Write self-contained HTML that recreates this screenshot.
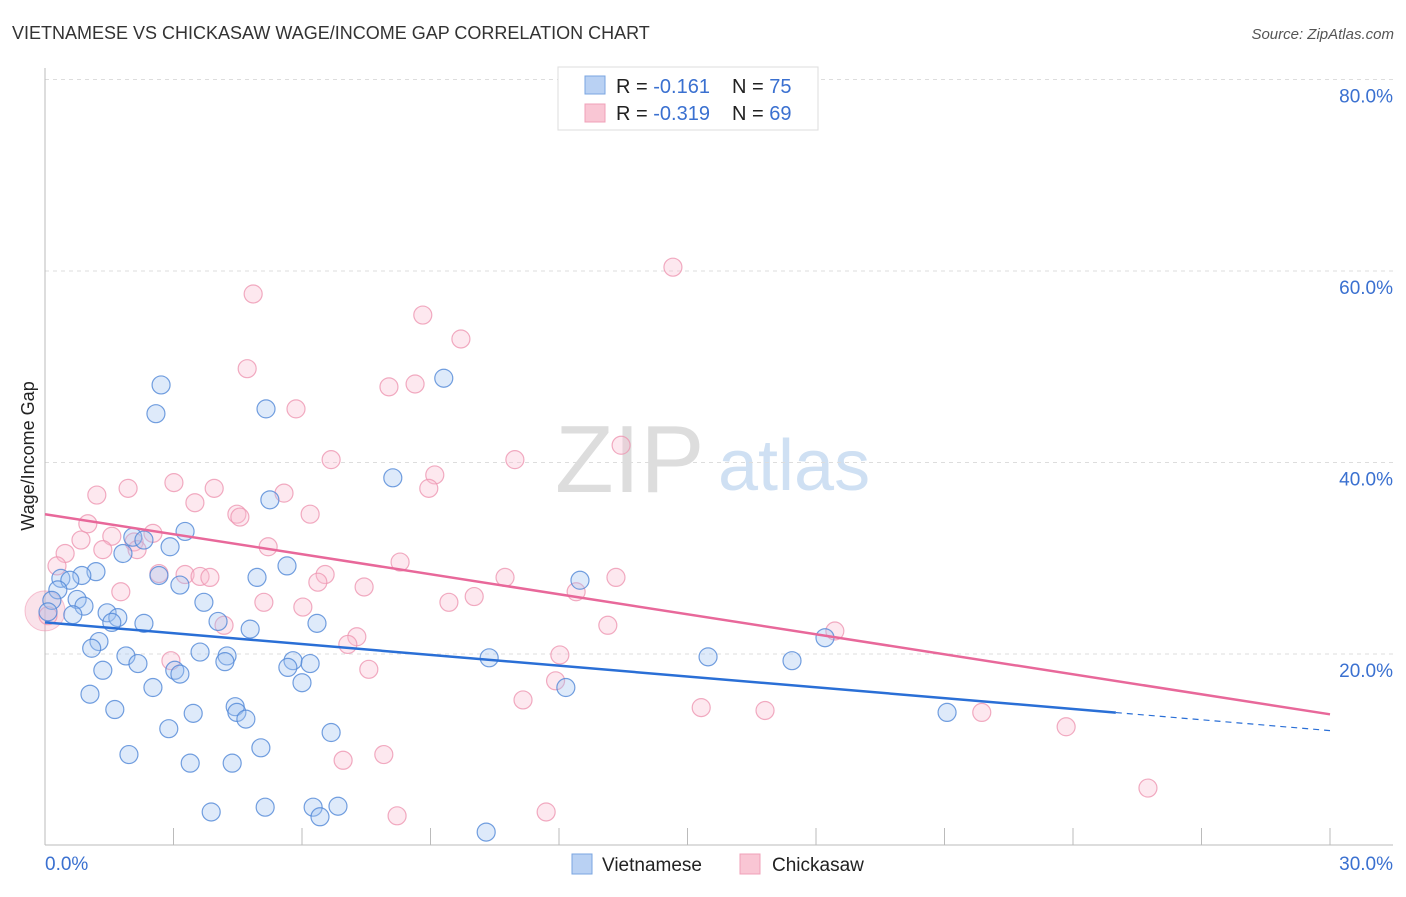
<!DOCTYPE html>
<html><head><meta charset="utf-8"><style>
body{margin:0;background:#fff;font-family:"Liberation Sans",sans-serif}
svg text{font-family:"Liberation Sans",sans-serif}
</style></head><body>
<svg width="1406" height="892" id="c">
<text x="12" y="39" font-size="18" fill="#333">VIETNAMESE VS CHICKASAW WAGE/INCOME GAP CORRELATION CHART</text>
<text x="1394" y="39" font-size="15" fill="#555" font-style="italic" text-anchor="end">Source: ZipAtlas.com</text>
<text x="555" y="492" font-size="96" fill="#ddd" font-family="Liberation Serif">ZIP</text>
<text x="718" y="490" font-size="72" fill="#cfe0f3">atlas</text>
<text transform="translate(34,456) rotate(-90)" font-size="18" fill="#222" text-anchor="middle">Wage/Income Gap</text>
<g id="grid"></g><g id="pts"></g><g id="lines"></g>
<g>
<rect x="558" y="67" width="260" height="63" fill="#fff" stroke="#ddd"/>
<rect x="585" y="76" width="20" height="18" fill="#b9d1f3" stroke="#7aa5e0"/>
<rect x="585" y="104" width="20" height="18" fill="#f9c6d4" stroke="#f0a0b8"/>
<text x="616" y="93" font-size="20" fill="#222">R = <tspan fill="#3a70d0"> -0.161</tspan><tspan x="732">N = </tspan><tspan fill="#3a70d0">75</tspan></text>
<text x="616" y="120" font-size="20" fill="#222">R = <tspan fill="#3a70d0">-0.319</tspan><tspan x="732">N = </tspan><tspan fill="#3a70d0">69</tspan></text>
</g>
<g>
<rect x="572" y="854" width="20" height="20" fill="#b9d1f3" stroke="#7aa5e0"/>
<text x="602" y="871" font-size="19" fill="#222">Vietnamese</text>
<rect x="740" y="854" width="20" height="20" fill="#f9c6d4" stroke="#f0a0b8"/>
<text x="772" y="871" font-size="19" fill="#222">Chickasaw</text>
</g>
</svg>
<script>
const xTicks=[0,3,6,9,12,15,18,21,24,27,30];
const yTicks=[20,40,60,80];
const blueX=[9.31,2.71,2.59,5.16,8.12,5.25,3.27,2.05,2.92,1.82,2.31,1.19,0.86,0.37,0.58,2.66,3.15,4.95,5.65,12.49,0.30,0.16,0.75,0.91,0.65,1.45,1.70,1.56,2.31,3.71,4.04,4.79,6.35,18.21,1.26,1.09,1.89,2.17,1.35,3.62,4.25,4.20,5.79,5.67,6.19,10.37,15.48,17.44,3.03,3.15,6.00,2.52,12.16,1.05,1.63,4.44,4.48,4.69,3.46,21.06,2.89,6.68,5.04,1.96,3.39,4.37,3.88,5.14,6.26,6.84,6.42,10.30,0.07];
const blueY=[48.8,48.1,45.1,45.6,38.4,36.1,32.8,32.2,31.2,30.5,31.9,28.6,28.2,27.9,27.7,28.2,27.2,28.0,29.2,27.7,26.7,25.6,25.7,25.0,24.1,24.3,23.8,23.3,23.2,25.4,23.4,22.6,23.2,21.7,21.3,20.6,19.8,19.0,18.3,20.2,19.8,19.2,19.3,18.6,19.0,19.6,19.7,19.3,18.3,17.9,17.0,16.5,16.5,15.8,14.2,14.5,13.9,13.2,13.8,13.9,12.2,11.8,10.2,9.5,8.6,8.6,3.5,4.0,4.0,4.1,3.0,1.4,24.4];
const pinkX=[14.66,4.86,8.82,9.71,4.72,8.03,8.64,5.86,13.45,6.68,10.97,9.10,8.96,3.01,1.94,1.21,3.95,3.50,5.58,4.48,4.55,6.19,1.00,2.52,1.56,0.84,2.08,5.21,0.47,1.35,2.15,0.28,8.29,2.66,3.27,3.62,3.85,6.54,10.74,13.33,6.37,7.45,1.77,12.40,10.02,9.43,5.11,6.02,0.07,4.18,13.14,18.44,7.28,7.07,12.02,2.94,7.56,11.92,11.16,15.32,16.81,21.87,23.84,6.96,7.91,8.22,11.70,25.75];
const pinkY=[60.4,57.6,55.4,52.9,49.8,47.9,48.2,45.6,41.8,40.3,40.3,38.7,37.3,37.9,37.3,36.6,37.3,35.8,36.8,34.6,34.3,34.6,33.6,32.6,32.3,31.9,31.7,31.2,30.5,30.9,30.9,29.2,29.6,28.4,28.3,28.1,28.0,28.3,28.0,28.0,27.5,27.0,26.5,26.5,26.0,25.4,25.4,24.9,24.0,23.0,23.0,22.4,21.8,21.0,19.9,19.3,18.4,17.2,15.2,14.4,14.1,13.9,12.4,8.9,9.5,3.1,3.5,6.0];
const blueTrend=[23.3,12.0], blueSolidEnd=25;
const pinkTrend=[34.6,13.7];
const NS='http://www.w3.org/2000/svg';
const X=v=>45+v/30*1285, Y=v=>845.5-v/20*191.5;
function mk(p,t,a){const e=document.createElementNS(NS,t);for(const k in a)e.setAttribute(k,a[k]);p.appendChild(e);return e;}
const g=document.getElementById('grid');
yTicks.forEach(t=>{
 const l=mk(g,'line',{x1:45,x2:1393,y1:Y(t),y2:Y(t),stroke:'#ddd','stroke-dasharray':'4,4'});
 
 
 const tx=mk(g,'text',{x:1393,y:Y(t)+23,'font-size':19,fill:'#3a70d0','text-anchor':'end'});tx.textContent=t+'.0%';
 
 
});
const ax=mk(g,'line',{x1:45,x2:45,y1:68,y2:845,stroke:'#bbb'});


const bx=mk(g,'line',{x1:45,x2:1393,y1:845,y2:845,stroke:'#bbb'});


xTicks.forEach(t=>{const l=mk(g,'line',{x1:X(t),x2:X(t),y1:828,y2:845,stroke:'#bbb'});
 
 });
[[0,'start',45],[30,'end',1393]].forEach(([v,a,x])=>{const tx=mk(g,'text',{x:x,y:870,'font-size':19,fill:'#3a70d0','text-anchor':a});tx.textContent=v+'.0%';
 
 });
const p=document.getElementById('pts');
const big1=mk(p,'circle',{cx:X(0),cy:Y(24.5),r:20,fill:'rgba(240,160,184,0.3)',stroke:'rgba(240,140,170,0.5)'});


function pts(xs,ys,fill,stroke,name){xs.forEach((x,i)=>{const c=mk(p,'circle',{cx:X(x),cy:Y(ys[i]),r:9,fill:fill,stroke:stroke,'stroke-width':1.2});
 
 });}
pts(pinkX,pinkY,'rgba(248,190,208,0.35)','rgba(238,150,178,0.8)','chickasaw-point');
pts(blueX,blueY,'rgba(160,195,240,0.35)','rgba(80,135,215,0.8)','vietnamese-point');
const L=document.getElementById('lines');
const by=x=>blueTrend[0]+(blueTrend[1]-blueTrend[0])*x/30;
const bl=mk(L,'line',{x1:X(0),y1:Y(by(0)),x2:X(blueSolidEnd),y2:Y(by(blueSolidEnd)),stroke:'#2a6fd6','stroke-width':2.5});


const bd=mk(L,'line',{x1:X(blueSolidEnd),y1:Y(by(blueSolidEnd)),x2:X(30),y2:Y(by(30)),stroke:'#2a6fd6','stroke-width':1.2,'stroke-dasharray':'6,5'});


const pl=mk(L,'line',{x1:X(0),y1:Y(pinkTrend[0]),x2:X(30),y2:Y(pinkTrend[1]),stroke:'#e8689a','stroke-width':2.5});


</script>
</body></html>
